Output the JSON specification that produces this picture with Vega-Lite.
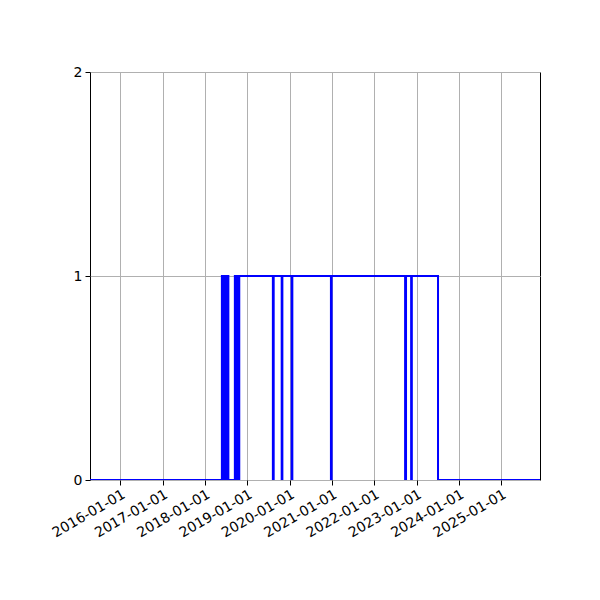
{
  "$schema": "https://vega.github.io/schema/vega-lite/v6.json",
  "width": 450,
  "height": 408,
  "autosize": "none",
  "padding": {"left": 90, "top": 72, "right": 60, "bottom": 120},
  "background": "white",
  "config": {
    "view": {"stroke": "black", "strokeWidth": 1},
    "font": "DejaVu Sans"
  },
  "data": {
    "values": [
      {"date": "2015-04-15", "value": 0},
      {"date": "2018-05-27", "value": 1},
      {"date": "2018-06-02", "value": 0},
      {"date": "2018-06-06", "value": 1},
      {"date": "2018-06-12", "value": 0},
      {"date": "2018-06-16", "value": 1},
      {"date": "2018-06-23", "value": 0},
      {"date": "2018-06-27", "value": 1},
      {"date": "2018-07-04", "value": 0},
      {"date": "2018-07-08", "value": 1},
      {"date": "2018-07-14", "value": 0},
      {"date": "2018-07-17", "value": 1},
      {"date": "2018-07-22", "value": 0},
      {"date": "2018-09-16", "value": 1},
      {"date": "2018-09-26", "value": 0},
      {"date": "2018-10-08", "value": 1},
      {"date": "2018-10-15", "value": 0},
      {"date": "2018-10-24", "value": 1},
      {"date": "2019-08-10", "value": 0},
      {"date": "2019-08-17", "value": 1},
      {"date": "2019-10-25", "value": 0},
      {"date": "2019-10-31", "value": 1},
      {"date": "2020-01-19", "value": 0},
      {"date": "2020-01-25", "value": 1},
      {"date": "2020-12-23", "value": 0},
      {"date": "2020-12-29", "value": 1},
      {"date": "2022-09-24", "value": 0},
      {"date": "2022-10-02", "value": 1},
      {"date": "2022-11-15", "value": 0},
      {"date": "2022-11-21", "value": 1},
      {"date": "2023-07-05", "value": 0},
      {"date": "2025-12-01", "value": 0}
    ]
  },
  "mark": {"type": "line", "interpolate": "step-after", "color": "#0000ff", "strokeWidth": 2, "clip": true},
  "encoding": {
    "x": {
      "field": "date",
      "type": "temporal",
      "scale": {"type": "utc", "domain": [{"year": 2015, "month": 4, "date": 15, "utc": true}, {"year": 2025, "month": 12, "date": 1, "utc": true}], "nice": false},
      "axis": {
        "title": null,
        "tickCount": {"interval": "year", "step": 1},
        "labelExpr": "utcFormat(datum.value, '%Y-%m-%d')",
        "labelAngle": -30,
        "labelAlign": "right",
        "labelBaseline": "top",
        "labelFontSize": 14,
        "labelColor": "black",
        "labelPadding": 2,
        "labelDx": -4,
        "labelDy": 0,
        "labelFlush": false,
        "labelOverlap": false,
        "grid": true,
        "gridColor": "#b0b0b0",
        "gridWidth": 1,
        "domain": false,
        "tickColor": "black",
        "tickSize": 5,
        "tickWidth": 1
      }
    },
    "y": {
      "field": "value",
      "type": "quantitative",
      "scale": {"domain": [0, 2], "nice": false},
      "axis": {
        "title": null,
        "values": [0, 1, 2],
        "labelExpr": "format(datum.value, 'd')",
        "labelOverlap": false,
        "labelFontSize": 14,
        "labelColor": "black",
        "labelPadding": 3,
        "grid": true,
        "gridColor": "#b0b0b0",
        "gridWidth": 1,
        "domain": false,
        "tickColor": "black",
        "tickSize": 5,
        "tickWidth": 1
      }
    }
  }
}
